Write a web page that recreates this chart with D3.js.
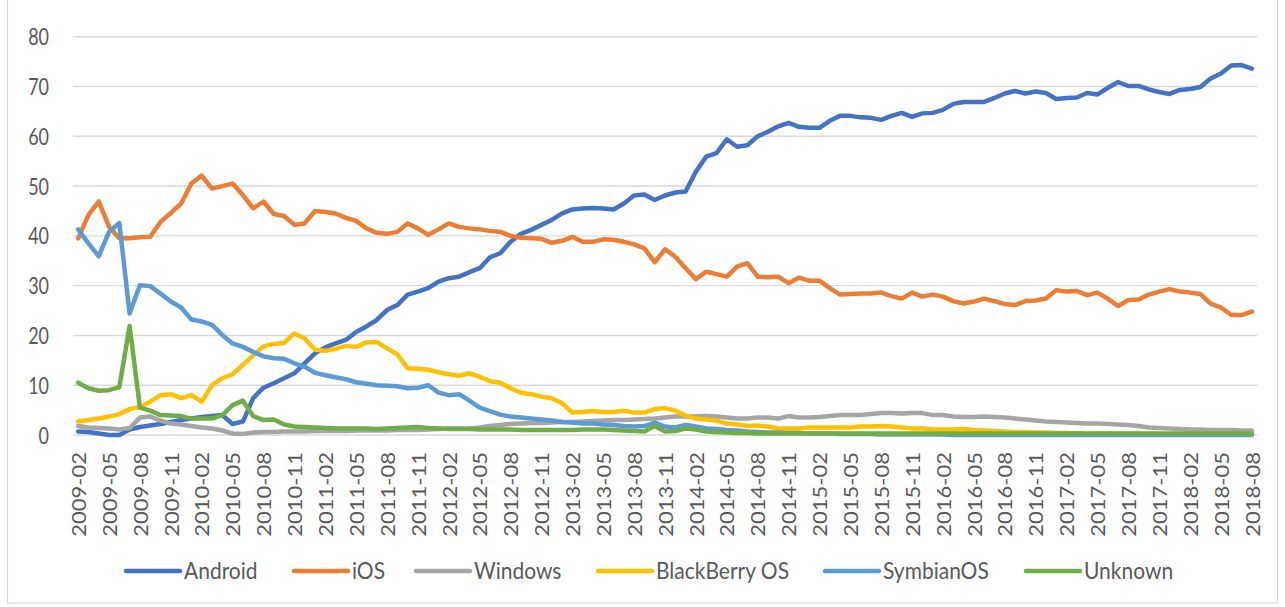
<!DOCTYPE html>
<html><head><meta charset="utf-8">
<script src="https://cdn.jsdelivr.net/npm/d3@7"></script>
<style>
body{margin:0;background:#fff;}
svg{display:block;font-family:Lato,"Open Sans",sans-serif;}
</style>
</head><body>
<svg id="chart" width="1285" height="607"></svg>
<script>
// ---- data ----
const categories = d3.timeMonth.range(new Date(2009,1,1), new Date(2018,8,1)).map(d3.timeFormat("%Y-%m"));
const xTickLabels = categories.filter((d,i)=>i%3===0);
const yTicks = [0,10,20,30,40,50,60,70,80];
const seriesNames = ["Android","iOS","Windows","BlackBerry OS","SymbianOS","Unknown"];

const android = [0.7,0.6,0.3,0.0,0.0,1.1,1.6,1.9,2.2,2.6,
3.0,3.3,3.6,3.8,4.0,2.2,2.7,7.4,9.5,10.4,
11.4,12.4,14.4,16.4,17.6,18.4,19.1,20.7,21.8,23.1,
25.1,26.1,28.2,28.8,29.5,30.8,31.5,31.8,32.7,33.5,
35.7,36.5,38.8,40.4,41.2,42.2,43.2,44.5,45.3,45.5,
45.6,45.5,45.3,46.5,48.1,48.3,47.2,48.1,48.7,48.9,
52.9,55.9,56.6,59.4,57.9,58.2,60.0,60.9,62.0,62.7,
61.9,61.7,61.7,63.1,64.1,64.1,63.8,63.7,63.3,64.1,
64.7,63.9,64.6,64.7,65.3,66.5,66.9,66.9,66.9,67.7,
68.6,69.1,68.6,69.0,68.7,67.5,67.7,67.8,68.7,68.4,
69.7,70.9,70.1,70.1,69.4,68.9,68.5,69.3,69.5,69.9,
71.6,72.6,74.2,74.3,73.6];

const ios = [39.5,44.2,46.9,41.8,39.5,39.5,39.7,39.8,42.8,44.6,
46.5,50.5,52.1,49.5,50.0,50.5,48.2,45.5,46.9,44.4,
44.0,42.2,42.5,45.0,44.8,44.5,43.6,43.0,41.5,40.6,
40.4,40.8,42.5,41.5,40.2,41.3,42.5,41.8,41.5,41.3,
41.0,40.8,40.0,39.6,39.5,39.4,38.6,39.0,39.8,38.8,
38.8,39.3,39.2,38.8,38.3,37.5,34.7,37.3,35.8,33.5,
31.3,32.8,32.3,31.8,33.8,34.5,31.8,31.7,31.8,30.5,
31.6,31.0,31.0,29.5,28.2,28.3,28.4,28.4,28.6,27.9,
27.4,28.6,27.8,28.2,27.8,26.9,26.4,26.8,27.4,26.9,
26.3,26.1,26.9,27.0,27.4,29.1,28.8,28.9,28.1,28.6,
27.4,25.9,27.1,27.2,28.2,28.8,29.3,28.8,28.6,28.3,
26.4,25.6,24.1,24.1,24.8];

const windows = [1.8,1.5,1.4,1.3,1.1,1.4,3.5,3.7,2.9,2.3,
2.1,1.8,1.5,1.3,0.9,0.3,0.2,0.5,0.6,0.6,
0.7,0.7,0.7,0.8,0.8,0.8,0.8,0.9,0.9,0.9,
0.9,1.0,1.0,1.0,1.1,1.2,1.3,1.3,1.3,1.5,
1.8,2.0,2.2,2.3,2.4,2.4,2.5,2.6,2.6,2.7,
2.8,2.9,3.0,3.0,3.1,3.2,3.3,3.5,3.7,3.7,
3.7,3.8,3.7,3.5,3.3,3.3,3.5,3.5,3.3,3.8,
3.5,3.5,3.6,3.8,4.0,4.0,4.0,4.2,4.4,4.4,
4.3,4.4,4.4,4.0,4.0,3.7,3.6,3.6,3.7,3.6,
3.5,3.3,3.1,2.9,2.7,2.6,2.5,2.4,2.3,2.3,
2.2,2.1,2.0,1.8,1.5,1.4,1.3,1.2,1.1,1.1,
1.0,1.0,1.0,0.9,0.9];

const blackberry = [2.7,3.0,3.3,3.7,4.2,5.2,5.6,6.7,8.0,8.2,
7.4,8.0,6.7,10.0,11.4,12.2,14.1,16.0,17.8,18.3,
18.5,20.4,19.4,17.1,16.9,17.3,17.9,17.7,18.6,18.7,
17.4,16.2,13.4,13.3,13.1,12.6,12.2,11.9,12.4,11.7,
10.8,10.5,9.4,8.5,8.2,7.7,7.4,6.4,4.5,4.6,
4.8,4.6,4.6,4.9,4.5,4.5,5.2,5.4,4.9,3.9,
3.3,3.1,2.9,2.3,2.1,1.8,1.9,1.7,1.3,1.3,
1.3,1.5,1.5,1.5,1.5,1.5,1.7,1.7,1.8,1.7,
1.5,1.3,1.3,1.1,1.1,1.1,1.2,1.0,0.9,0.8,
0.7,0.6,0.6,0.5,0.5,0.4,0.4,0.3,0.3,0.3,
0.3,0.2,0.2,0.2,0.2,0.2,0.1,0.1,0.1,0.1,
0.1,0.1,0.1,0.1,0.1];

const symbian = [41.3,38.5,35.9,40.8,42.6,24.4,30.1,29.9,28.4,26.8,
25.6,23.2,22.8,22.1,20.1,18.4,17.7,16.7,15.8,15.4,
15.3,14.4,13.7,12.5,12.0,11.6,11.2,10.6,10.3,10.0,
9.9,9.8,9.4,9.5,10.0,8.5,8.0,8.2,6.9,5.5,
4.8,4.1,3.7,3.5,3.3,3.1,2.9,2.6,2.5,2.3,
2.3,2.1,2.0,1.8,1.7,1.8,2.5,1.7,1.5,2.0,
1.7,1.3,1.2,1.0,0.9,0.7,0.6,0.5,0.5,0.4,
0.4,0.3,0.3,0.3,0.2,0.2,0.2,0.2,0.1,0.1,
0.1,0.1,0.1,0.1,0.1,0.0,0.0,0.0,0.0,0.0,
0.0,0.0,0.0,0.0,0.0,0.0,0.0,0.0,0.0,0.0,
0.0,0.0,0.0,0.0,0.0,0.0,0.0,0.0,0.0,0.0,
0.0,0.0,0.0,0.0,0.0];

const unknown = [10.5,9.4,8.9,9.0,9.6,21.9,5.5,4.9,4.0,3.9,
3.8,3.3,3.3,3.3,4.0,6.0,6.9,3.8,3.0,3.1,
2.1,1.7,1.6,1.5,1.4,1.3,1.3,1.3,1.3,1.2,
1.3,1.4,1.5,1.6,1.4,1.3,1.2,1.2,1.2,1.1,
1.1,1.1,1.1,1.0,1.0,1.0,1.0,1.0,1.0,1.1,
1.1,1.1,1.0,0.9,0.8,0.7,1.8,0.7,0.8,1.3,
1.1,0.7,0.6,0.5,0.4,0.4,0.3,0.3,0.3,0.3,
0.3,0.3,0.3,0.3,0.3,0.3,0.3,0.3,0.3,0.3,
0.3,0.3,0.3,0.3,0.3,0.3,0.3,0.3,0.3,0.3,
0.3,0.3,0.3,0.3,0.3,0.3,0.3,0.3,0.3,0.3,
0.3,0.3,0.3,0.3,0.3,0.3,0.3,0.3,0.3,0.3,
0.3,0.3,0.3,0.3,0.3];

// ---- style / layout ----
const seriesValues = [android, ios, windows, blackberry, symbian, unknown];
const seriesColors = ["#4472C4","#ED7D31","#A5A5A5","#FFC000","#5B9BD5","#70AD47"];
const legendX = [126, 294, 416, 598, 825, 1026];
const textColor = "#595959";
const gridColor = "#D9D9D9";

const svg = d3.select("#chart");
const plotLeft = 73, plotRight = 1257, plotTop = 36.7, plotBottom = 435;

// outer border
svg.append("rect").attr("x",7.5).attr("y",-1).attr("width",1270).attr("height",604)
  .attr("fill","none").attr("stroke",gridColor).attr("stroke-width",1.2);

const x = d3.scalePoint().domain(categories).range([plotLeft, plotRight]).padding(0.5);
const y = d3.scaleLinear().domain([0,80]).range([plotBottom, plotTop]);

// gridlines
svg.append("g").selectAll("line").data(yTicks).join("line")
  .attr("x1", plotLeft).attr("x2", plotRight)
  .attr("y1", d=>y(d)).attr("y2", d=>y(d))
  .attr("stroke", gridColor).attr("stroke-width", 1.4);

// y axis labels
const yAxis = svg.append("g").attr("transform",`translate(${plotLeft},0)`)
  .call(d3.axisLeft(y).tickValues(yTicks).tickSize(0).tickPadding(24));
yAxis.select(".domain").remove();
yAxis.selectAll("text")
  .attr("fill", textColor).attr("font-size", 18).attr("font-family","Lato,sans-serif")
  .each(function(){
    const t = d3.select(this);
    const xx = +t.attr("x");
    t.attr("x", 0).attr("transform", `translate(${xx},0) scale(1,1.25)`).attr("dy","0.36em");
  });

// x axis labels
const xAxis = svg.append("g").attr("transform",`translate(0,${plotBottom})`)
  .call(d3.axisBottom(x).tickValues(xTickLabels).tickSize(0));
xAxis.select(".domain").remove();
xAxis.selectAll("text")
  .attr("fill", textColor).attr("font-size", 20).attr("font-family","Lato,sans-serif")
  .attr("x", 0).attr("y", 0).attr("dy","0.36em")
  .attr("text-anchor","end")
  .attr("transform", `translate(0,17) scale(1,1.1) rotate(-90)`);

// lines
const line = d3.line().x((d,i)=>x(categories[i])).y(d=>y(d));
svg.append("g").selectAll("path").data(seriesValues).join("path")
  .attr("d", d=>line(d))
  .attr("fill","none")
  .attr("stroke",(d,i)=>seriesColors[i])
  .attr("stroke-width",4.5)
  .attr("stroke-linejoin","round")
  .attr("stroke-linecap","round");

// legend
const legY = 571;
const leg = svg.append("g").selectAll("g").data(seriesNames).join("g")
  .attr("transform",(d,i)=>`translate(${legendX[i]},${legY})`);
leg.append("line").attr("x1",0).attr("x2",54).attr("y1",0).attr("y2",0)
  .attr("stroke",(d,i)=>seriesColors[i]).attr("stroke-width",4.5).attr("stroke-linecap","round");
leg.append("text").text(d=>d)
  .attr("transform",`translate(58,0) scale(1,1.12)`)
  .attr("dy","0.36em")
  .attr("fill",textColor).attr("font-size",21);
</script>
</body></html>
